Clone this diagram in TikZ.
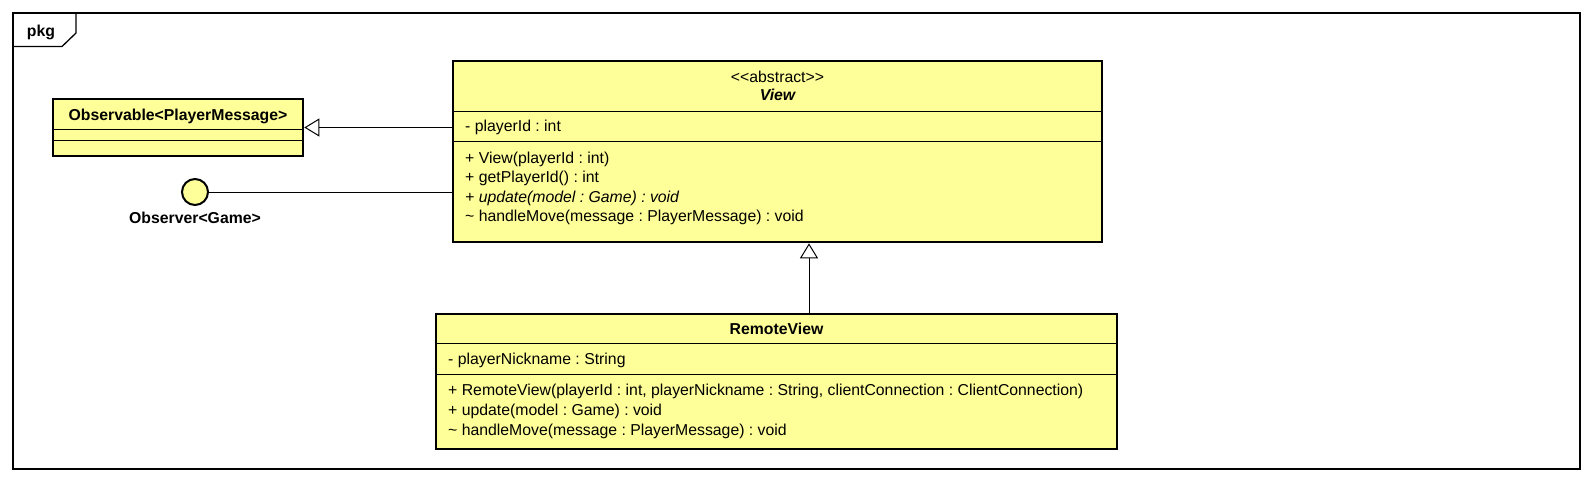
\documentclass[tikz,border=0pt]{standalone}
\usepackage{fontspec}
\setmainfont{Liberation Sans}
\usetikzlibrary{arrows.meta}
\definecolor{umlfill}{RGB}{255,255,153}
\frenchspacing
\begin{document}
\begin{tikzpicture}[x=1pt,y=-1pt,
  classbox/.style={draw, line width=2.6pt, fill=umlfill, inner sep=0pt},
  sepline/.style={line width=1pt},
  member/.style={anchor=base west, inner sep=0pt, font=\fontsize{15.8}{18}\selectfont},
  titletext/.style={anchor=base, inner sep=0pt, font=\fontsize{15.8}{18}\selectfont\bfseries},
  plaintext/.style={anchor=base, inner sep=0pt, font=\fontsize{15.8}{18}\selectfont},
  gen/.style={-{Triangle[length=15pt, width=18pt, fill=white]}, line width=1pt},
  assoc/.style={line width=1pt},
  framepath/.style={line width=1.3pt}
]
\useasboundingbox (0,0) rectangle (1593,482);
\fill[white] (0,0) rectangle (1593,482);

% package frame
\draw[framepath] (13,13) rectangle (1580,469);
\draw[framepath] (13,46.5) -- (62,46.5) -- (76,33) -- (76,13);
\node[titletext] (pkg) at (41,36) {pkg};

% Observable
\node[classbox, minimum width=250pt, minimum height=57pt] (obs) at (178,127.5) {};
\node[titletext] (obsT) at (178,120.5) {Observable<PlayerMessage>};
\draw[sepline] (53,129) -- (303,129);
\draw[sepline] (53,140) -- (303,140);

% Observer interface
\node[circle, draw, line width=2pt, fill=umlfill, minimum size=26pt, inner sep=0pt] (obsv) at (195,192) {};
\node[titletext] (obsvT) at (195,223) {Observer<Game>};

% View
\node[classbox, minimum width=649pt, minimum height=181pt] (view) at (777.5,151.5) {};
\node[plaintext] (viewS) at (777.5,82) {<\kern0pt<abstract>\kern0pt>};
\node[titletext, font=\fontsize{15.8}{18}\selectfont\bfseries\itshape] (viewT) at (777.5,100.5) {View};
\draw[sepline] (453,111) -- (1102,111);
\node[member] (va1) at (465,131.5) {- playerId : int};
\draw[sepline] (453,141) -- (1102,141);
\node[member] (vo1) at (465,163) {+ View(playerId : int)};
\node[member] (vo2) at (465,182) {+ getPlayerId() : int};
\node[member, font=\fontsize{15.8}{18}\selectfont\itshape] (vo3) at (465,202) {+ update(model : Game) : void};
\node[member] (vo4) at (465,221) {\textasciitilde{} handleMove(message : PlayerMessage) : void};

% RemoteView
\node[classbox, minimum width=681pt, minimum height=135pt] (rv) at (776.5,381.5) {};
\node[titletext] (rvT) at (776.5,334.5) {RemoteView};
\draw[sepline] (436,343) -- (1117,343);
\node[member] (ra1) at (448,364.5) {- playerNickname : String};
\draw[sepline] (436,374) -- (1117,374);
\node[member] (ro1) at (448,395.5) {+ RemoteView(playerId : int, playerNickname : String, clientConnection : ClientConnection)};
\node[member] (ro2) at (448,415.5) {+ update(model : Game) : void};
\node[member] (ro3) at (448,435.5) {\textasciitilde{} handleMove(message : PlayerMessage) : void};

% connectors
\draw[gen] (view.west |- obs.east) -- (obs.east);
\draw[assoc] (obsv.east) -- (view.west |- obsv.east);
\coordinate (gx) at (809,0);
\draw[gen] (rv.north -| gx) -- (view.south -| gx);
\end{tikzpicture}
\end{document}
